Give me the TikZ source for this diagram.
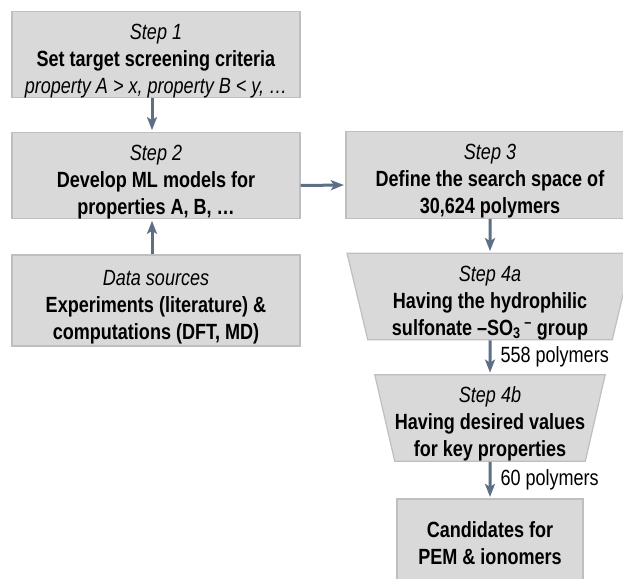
\documentclass[tikz,border=0pt]{standalone}
\usepackage{fontspec}
\setmainfont{Liberation Sans}[FakeStretch=0.82]
\usetikzlibrary{arrows.meta,shapes.geometric}
\definecolor{boxgray}{HTML}{D9D9D9}
\definecolor{edgegray}{HTML}{BFBFBF}
\definecolor{arrowblue}{HTML}{5E6E85}
\newcommand{\topgap}[1][28pt]{\rule{0pt}{#1}}

\begin{document}
\begin{tikzpicture}[x=1pt,y=-1pt,
	stepbox/.style={draw=edgegray, line width=1.2pt, fill=boxgray, minimum width=288pt, minimum height=83pt, inner sep=0pt, align=center, font=\fontsize{22}{27}\selectfont},
	filterbox/.style={stepbox, trapezium, shape border rotate=180, trapezium stretches body, trapezium angle=76.5},
	flow/.style={draw=arrowblue, line width=3pt, shorten >=1.5pt, -{Stealth[length=13pt,width=10pt,inset=3pt]}},
	count/.style={font=\fontsize{22}{27}\selectfont, anchor=west, inner sep=0pt, xshift=9pt}]
	\useasboundingbox (0,0) rectangle (623,578);
	\clip (0,0) rectangle (623,578);
	\node (s1) [stepbox] at (156,54.5) {\topgap\textit{Step 1}\\\textbf{Set target screening criteria}\\\textit{property A > x, property B < y, …}};
	\node (s2) [stepbox] at (156,175.5) {\topgap\textit{Step 2}\\\textbf{Develop ML models for}\\\textbf{properties A, B, …}};
	\node (data) [stepbox, minimum height=91pt] at (156,300.5) {\topgap\textit{Data sources}\\\textbf{Experiments (literature) \&}\\\textbf{computations (DFT, MD)}};
	\node (s3) [stepbox] at (490,175) {\topgap\textit{Step 3}\\\textbf{Define the search space of}\\\textbf{30,624 polymers}};
	\node (s4a) [filterbox, minimum width=286pt] at (490,296.5) {\topgap\textit{Step 4a}\\\textbf{Having the hydrophilic}\\\textbf{sulfonate –SO\textsubscript{3}\,\textsuperscript{–} group}};
	\node (s4b) [filterbox, minimum width=227pt, minimum height=84pt, trapezium angle=77] at (490,418) {\topgap\textit{Step 4b}\\\textbf{Having desired values}\\\textbf{for key properties}};
	\node (cand) [stepbox, minimum width=186pt, minimum height=84pt] at (490,541) {\topgap[21pt]\textbf{Candidates for}\\\textbf{PEM \& ionomers}};
	\draw[flow] ([xshift=-4pt]s1.south) -- ([xshift=-4pt]s2.north);
	\draw[flow] ([xshift=-4pt]data.north) -- ([xshift=-4pt]s2.south);
	\draw[flow] ([yshift=-10pt]s2.east) -- ([yshift=-10pt]s3.west);
	\draw[flow] (s3) -- (s4a);
	\draw[flow] (s4a) -- node[count] (n558) {558 polymers} (s4b);
	\draw[flow] (s4b) -- node[count] (n60) {60 polymers} (cand);
\end{tikzpicture}
\end{document}
